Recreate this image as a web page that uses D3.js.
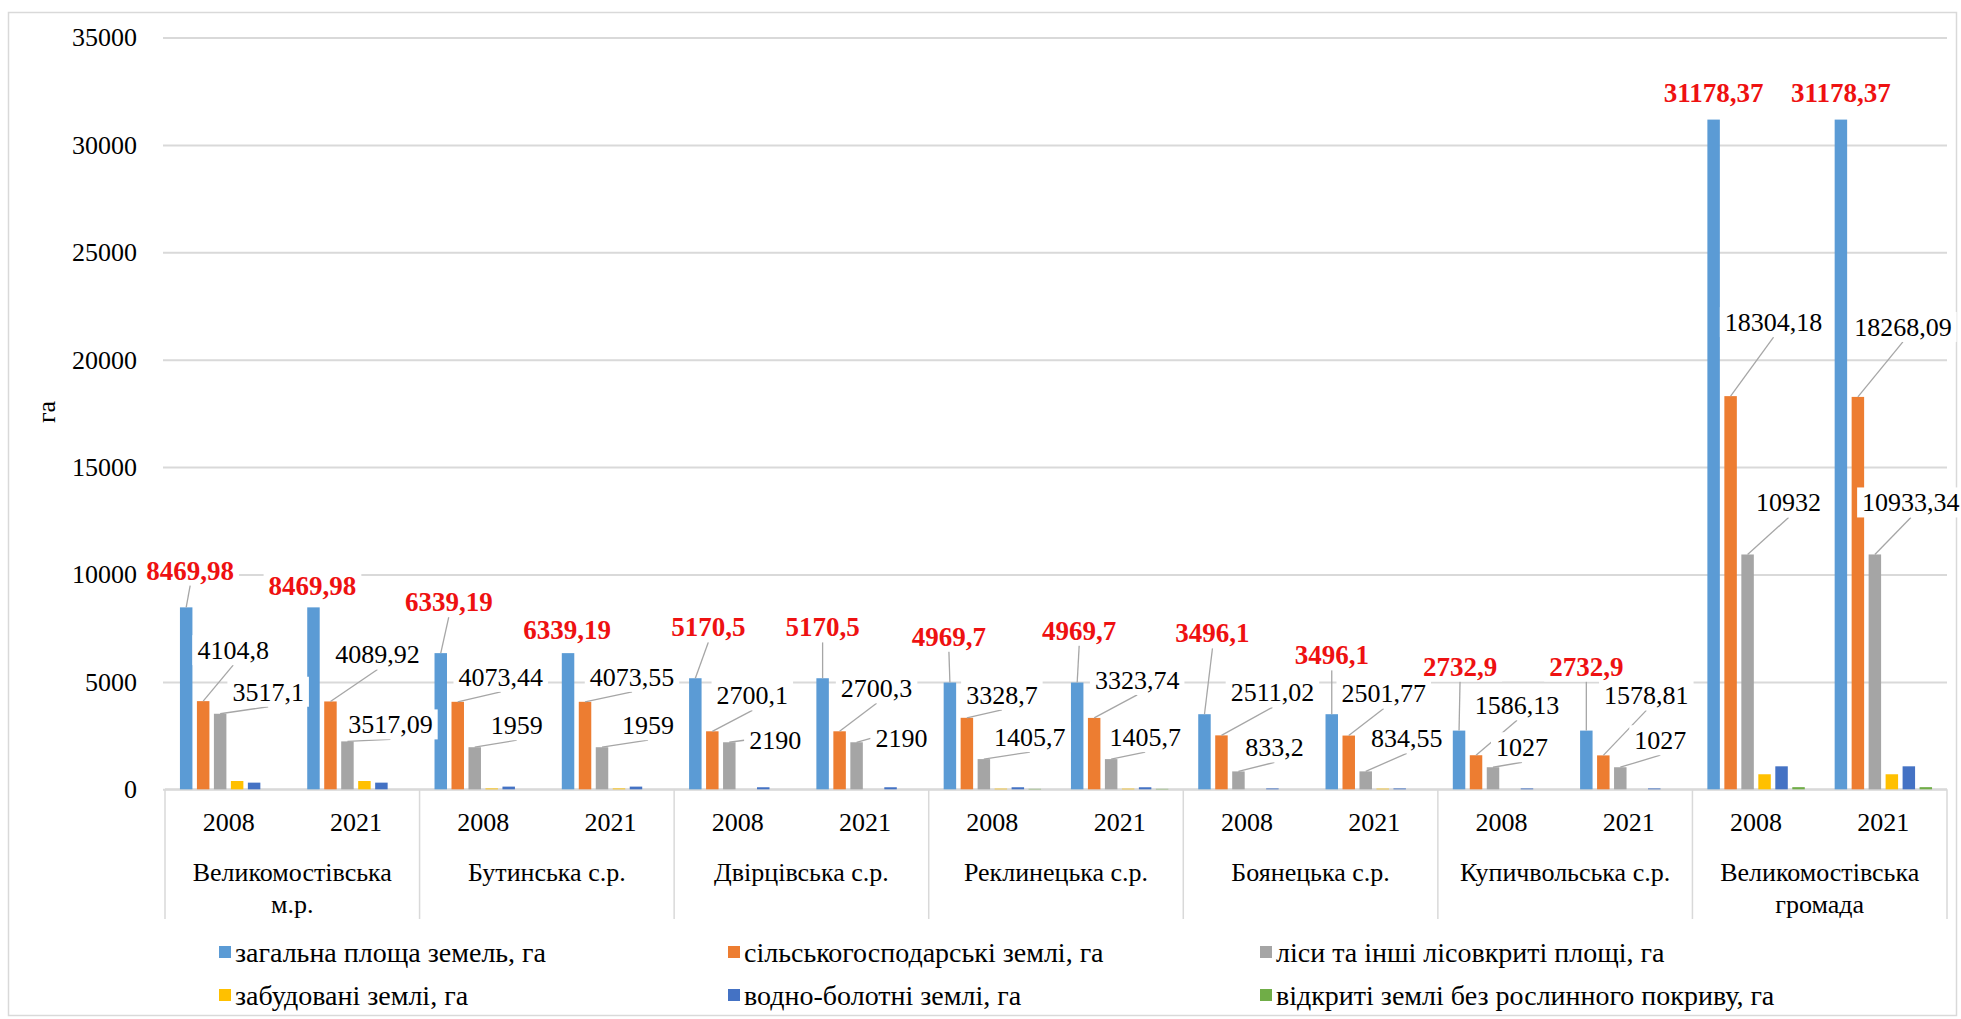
<!DOCTYPE html>
<html>
<head>
<meta charset="utf-8">
<script src="https://cdn.jsdelivr.net/npm/d3@7"></script>
<style>
  body { margin: 0; background: #ffffff; }
</style>
</head>
<body>
<div id="chart"></div>
<script>
// Land structure by council, 2008 vs 2021

const WIDTH = 1961
const HEIGHT = 1019
const PLOT = { LEFT: 165, RIGHT: 1947, TOP: 37.5, BOTTOM: 789.3 }
const FONT = "'Liberation Serif', 'Times New Roman', 'DejaVu Serif', serif"

// data
const groups = ["Великомостівська м.р.", "Бутинська с.р.", "Двірцівська с.р.", "Реклинецька с.р.",
    "Боянецька с.р.", "Купичвольська с.р.", "Великомостівська громада"]
const groupLines = [["Великомостівська", "м.р."], ["Бутинська с.р."], ["Двірцівська с.р."], ["Реклинецька с.р."],
    ["Боянецька с.р."], ["Купичвольська с.р."], ["Великомостівська", "громада"]]
const years = ["2008", "2021"]
const seriesNames = ["загальна площа земель, га", "сільськогосподарські землі, га", "ліси та інші лісовкриті площі, га",
    "забудовані землі, га", "водно-болотні землі, га", "відкриті землі без рослинного покриву, га"]
const colors = ["#5b9bd5", "#ed7d31", "#a5a5a5", "#ffc000", "#4472c4", "#70ad47"]

// values in order: group 1 (2008, 2021), group 2 (2008, 2021) ...
const totalArea = [8469.98, 8469.98, 6339.19, 6339.19, 5170.5, 5170.5, 4969.7, 4969.7, 3496.1, 3496.1, 2732.9, 2732.9, 31178.37, 31178.37]
const agriLand = [4104.8, 4089.92, 4073.44, 4073.55, 2700.1, 2700.3, 3328.7, 3323.74, 2511.02, 2501.77, 1586.13, 1578.81, 18304.18, 18268.09]
const forestLand = [3517.1, 2230, 1959, 1959, 2190, 2190, 1405.7, 1405.7, 833.2, 834.55, 1027, 1027, 10932, 10933.34]
const builtLand = [386, 386, 40, 40, 0, 0, 30, 30, 0, 30, 0, 0, 700, 700]
const wetLand = [310, 310, 125, 125, 95, 95, 95, 95, 40, 40, 40, 40, 1070, 1070]
const openLand = [0, 0, 0, 0, 0, 0, 20, 20, 0, 0, 0, 0, 100, 100]
const seriesValues = [totalArea, agriLand, forestLand, builtLand, wetLand, openLand]

// label texts as printed on the chart
const totalLabels = ["8469,98", "8469,98", "6339,19", "6339,19", "5170,5", "5170,5", "4969,7", "4969,7",
    "3496,1", "3496,1", "2732,9", "2732,9", "31178,37", "31178,37"]
const agriLabels = ["4104,8", "4089,92", "4073,44", "4073,55", "2700,1", "2700,3", "3328,7", "3323,74",
    "2511,02", "2501,77", "1586,13", "1578,81", "18304,18", "18268,09"]
const forestLabels = ["3517,1", "3517,09", "1959", "1959", "2190", "2190", "1405,7", "1405,7",
    "833,2", "834,55", "1027", "1027", "10932", "10933,34"]

const yTicks = [0, 5000, 10000, 15000, 20000, 25000, 30000, 35000]

// hand-placed label nudges (px from bar top), like the dragged labels in the source
const totalNudge = [[4, -37], [-1, -22], [8, -51], [-1, -23], [13, -51], [0, -51], [-1, -46], [2, -52],
    [8, -81], [0, -59], [1, -64], [0, -64], [0, -27], [0, -27]]
const agriNudge = [[30, -51], [47, -47], [43, -25], [47, -25], [40, -36], [37, -43], [35, -23], [43, -38],
    [51, -43], [35, -42], [41, -50], [43, -60], [43, -74], [45, -70]]
const forestNudge = [[48, -22], [43, -17], [42, -22], [46, -22], [46, -2], [45, -4], [46, -22], [34, -22],
    [36, -24], [41, -33], [29, -20], [40, -27], [41, -52], [36, -52]]

const svg = d3.select("#chart").append("svg")
    .attr("width", WIDTH)
    .attr("height", HEIGHT)
    .style("font-family", FONT)

// outer frame
svg.append("rect")
    .attr("x", 8.5).attr("y", 12.5)
    .attr("width", 1948).attr("height", 1003)
    .attr("fill", "none")
    .attr("stroke", "#d9d9d9")
    .attr("stroke-width", 1.5)

// scales
const x0 = d3.scaleBand().domain(groups).range([PLOT.LEFT, PLOT.RIGHT])
const x1 = d3.scaleBand().domain(years).range([0, x0.bandwidth()])
const x2 = d3.scaleBand().domain(d3.range(seriesNames.length))
    .range([0, x1.bandwidth()])
    .paddingInner(0.265)
    .paddingOuter(0.88)
const y = d3.scaleLinear().domain([0, 35000]).range([PLOT.BOTTOM, PLOT.TOP])

// gridlines + y labels
const yAxis = d3.axisLeft(y)
    .tickValues(yTicks)
    .tickSize(-(PLOT.RIGHT - PLOT.LEFT + 2))
    .tickPadding(26)
    .tickFormat(d3.format("d"))

const gy = svg.append("g")
    .attr("transform", `translate(${PLOT.LEFT - 2}, 0)`)
    .call(yAxis)
    .attr("font-family", null)
    .attr("font-size", null)
gy.select(".domain").remove()
gy.selectAll("line").attr("stroke", "#d9d9d9").attr("stroke-width", 2)
gy.selectAll("text")
    .style("font-family", FONT)
    .attr("font-size", "26px")
    .attr("fill", "#000")

svg.append("text")
    .attr("transform", `translate(55, 412) rotate(-90)`)
    .attr("text-anchor", "middle")
    .attr("font-size", "26px")
    .text("га")

// category axis box
const catBottom = 919
svg.append("line")
    .attr("x1", PLOT.LEFT).attr("x2", PLOT.RIGHT)
    .attr("y1", PLOT.BOTTOM).attr("y2", PLOT.BOTTOM)
    .attr("stroke", "#d9d9d9").attr("stroke-width", 2)

const bounds = groups.map(g => x0(g)).concat([PLOT.RIGHT])
svg.selectAll(".sep")
    .data(bounds)
    .enter().append("line")
    .attr("class", "sep")
    .attr("x1", d => d).attr("x2", d => d)
    .attr("y1", PLOT.BOTTOM).attr("y2", catBottom)
    .attr("stroke", "#d9d9d9").attr("stroke-width", 1.5)

// year + council labels
groups.forEach((g, gi) => {
    years.forEach(yr => {
        svg.append("text")
            .attr("x", x0(g) + x1(yr) + x1.bandwidth() / 2)
            .attr("y", 831)
            .attr("text-anchor", "middle")
            .attr("font-size", "26px")
            .text(yr)
    })
    groupLines[gi].forEach((line, li) => {
        svg.append("text")
            .attr("x", x0(g) + x0.bandwidth() / 2)
            .attr("y", 881 + li * 32)
            .attr("text-anchor", "middle")
            .attr("font-size", "26px")
            .text(line)
    })
})

// rows for bars
const rows = []
groups.forEach((g, gi) => {
    years.forEach((yr, yi) => {
        const idx = gi * 2 + yi
        seriesValues.forEach((vals, si) => {
            rows.push({ group: g, year: yr, series: si, idx: idx, value: vals[idx] })
        })
    })
})

const barX = d => x0(d.group) + x1(d.year) + x2(d.series)

svg.append("g").selectAll("rect")
    .data(rows.filter(d => d.value > 0))
    .enter().append("rect")
    .attr("x", barX)
    .attr("y", d => y(d.value))
    .attr("width", x2.bandwidth())
    .attr("height", d => y(0) - y(d.value))
    .attr("fill", d => colors[d.series])

// data labels with white boxes and leader lines
const labelSets = [
    { series: 0, texts: totalLabels, nudge: totalNudge, color: "#ee1111", weight: "bold", size: 27 },
    { series: 1, texts: agriLabels, nudge: agriNudge, color: "#000000", weight: "normal", size: 26 },
    { series: 2, texts: forestLabels, nudge: forestNudge, color: "#000000", weight: "normal", size: 26 }
]

const labelLayer = svg.append("g")
labelSets.forEach(set => {
    rows.filter(d => d.series === set.series).forEach(d => {
        const bx = barX(d) + x2.bandwidth() / 2
        const by = y(d.value)
        const cx = bx + set.nudge[d.idx][0]
        const cy = by + set.nudge[d.idx][1]

        const lg = labelLayer.append("g")
        const box = lg.append("rect").attr("fill", "#ffffff")
        const t = lg.append("text")
            .attr("x", cx)
            .attr("y", cy)
            .attr("dy", "0.34em")
            .attr("text-anchor", "middle")
            .attr("font-size", set.size + "px")
            .attr("font-weight", set.weight)
            .attr("fill", set.color)
            .text(set.texts[d.idx])

        const w = t.node().getComputedTextLength()
        const left = cx - w / 2 - 5, right = cx + w / 2 + 5
        const top = cy - 15, bottom = cy + 15
        box.attr("x", left).attr("y", top).attr("width", right - left).attr("height", bottom - top)

        // leader line: to bottom centre of the box, or its left side when level with the bar top
        let px = cx, py = bottom
        if (by < bottom) { px = left; py = cy }
        if (Math.hypot(px - bx, py - by) > 14) {
            lg.insert("line", "rect")
                .attr("x1", bx).attr("y1", by)
                .attr("x2", px).attr("y2", py)
                .attr("stroke", "#a6a6a6")
                .attr("stroke-width", 1.3)
        }
    })
})

// legend
const legendCols = [219, 728, 1260]
const legendRows = [952, 995]
seriesNames.forEach((name, i) => {
    const lx = legendCols[i % 3]
    const ly = legendRows[Math.floor(i / 3)]
    svg.append("rect")
        .attr("x", lx).attr("y", ly - 6)
        .attr("width", 12).attr("height", 12)
        .attr("fill", colors[i])
    svg.append("text")
        .attr("x", lx + 16)
        .attr("y", ly)
        .attr("dy", "0.34em")
        .attr("font-size", "28px")
        .text(name)
})
</script>
</body>
</html>
